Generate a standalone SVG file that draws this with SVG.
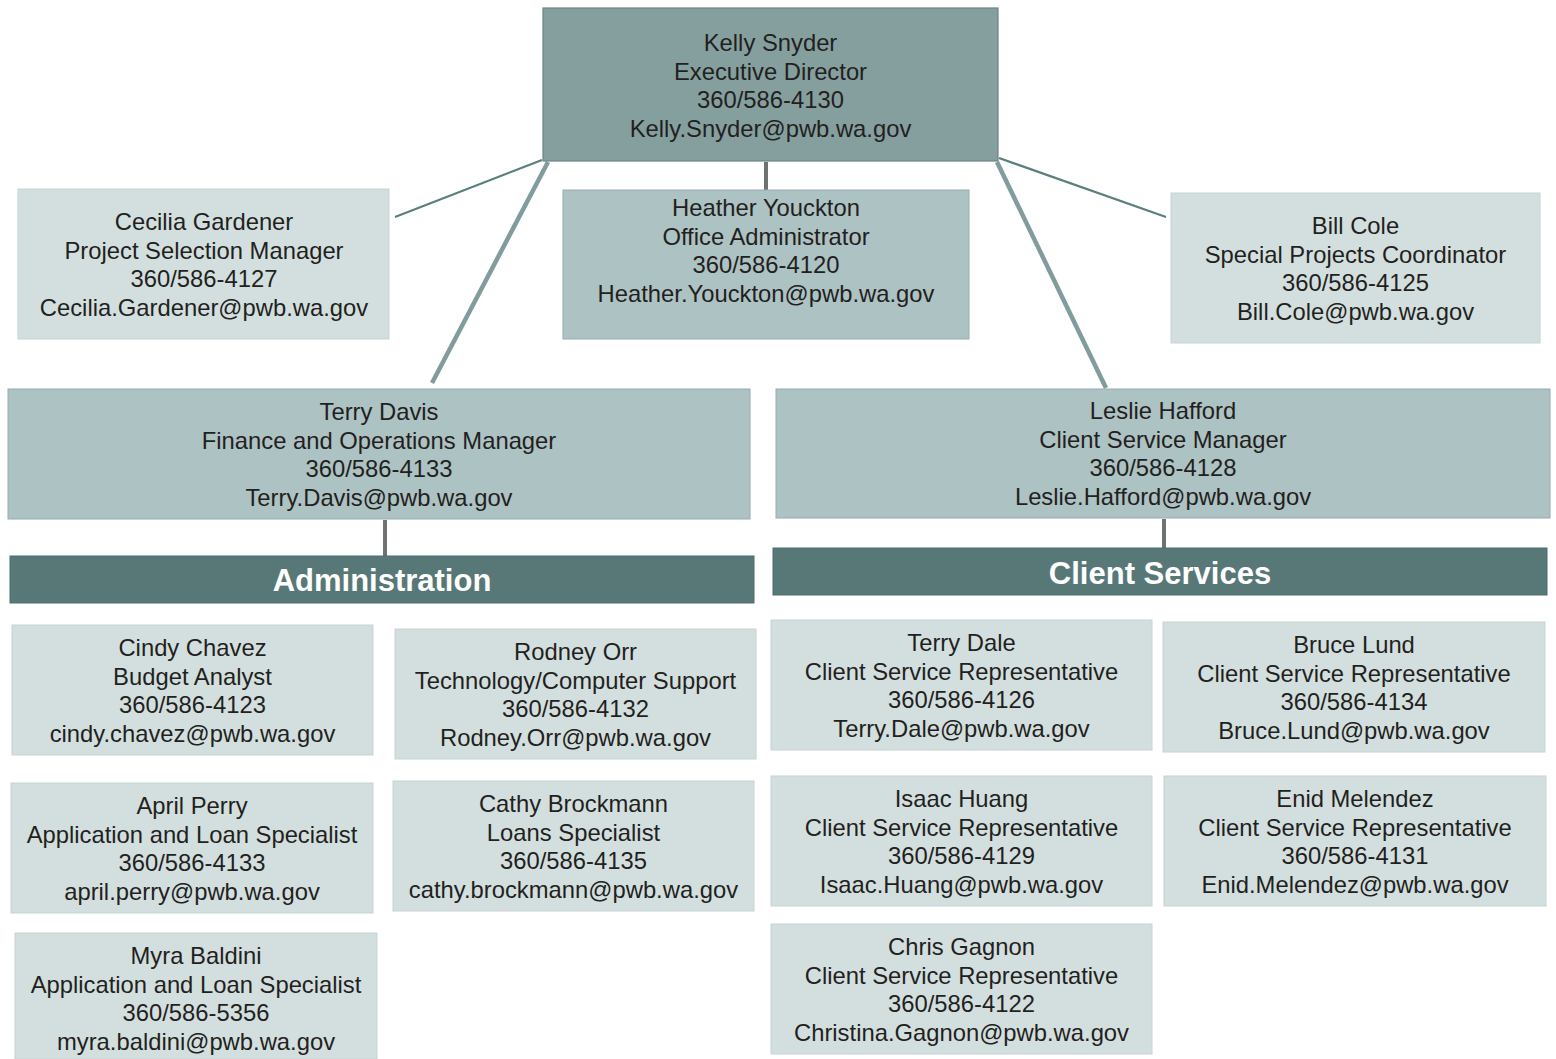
<svg xmlns="http://www.w3.org/2000/svg" width="1556" height="1059" viewBox="0 0 1556 1059">
<style>
.t{font-family:"Liberation Sans",Arial,sans-serif;font-size:23.8px;fill:#231f20;text-anchor:middle}
.h{font-family:"Liberation Sans",Arial,sans-serif;font-size:31px;font-weight:bold;fill:#ffffff;text-anchor:middle}
.top{fill:#859f9f;stroke:#6c8686;stroke-width:1.2}
.mgr{fill:#adc2c3;stroke:#98acad;stroke-width:1}
.lt{fill:#d3dfdf;stroke:#c8d4d4;stroke-width:1}
.bar{fill:#587878;stroke:#4f6d6d;stroke-width:1}
.thin{stroke:#5b7e7e;stroke-width:2.2;fill:none}
.thick{stroke:#809c9d;stroke-width:4.5;fill:none}
.vert{stroke:#6f7273;stroke-width:4;fill:none}
</style>
<rect width="1556" height="1059" fill="#ffffff"/>
<g id="connectors">
<line class="thin" x1="542" y1="160" x2="395" y2="217"/>
<line class="thick" x1="548" y1="162" x2="432" y2="383"/>
<line class="vert" x1="766" y1="162" x2="766" y2="190"/>
<line class="thin" x1="999" y1="158" x2="1166" y2="217"/>
<line class="thick" x1="997" y1="162" x2="1106" y2="388"/>
<line class="vert" x1="385" y1="520" x2="385" y2="556"/>
<line class="vert" x1="1164" y1="519" x2="1164" y2="548"/>
</g>
<g id="kelly">
<rect class="top" x="543" y="8" width="455" height="153"/>
<text class="t" x="770.5" y="51"><tspan x="770.5">Kelly Snyder</tspan><tspan x="770.5" dy="28.7">Executive Director</tspan><tspan x="770.5" dy="28.7">360/586-4130</tspan><tspan x="770.5" dy="28.7">Kelly.Snyder@pwb.wa.gov</tspan></text>
</g>
<g id="cecilia">
<rect class="lt" x="18" y="189" width="371" height="150"/>
<text class="t" x="204" y="230"><tspan x="204">Cecilia Gardener</tspan><tspan x="204" dy="28.7">Project Selection Manager</tspan><tspan x="204" dy="28.7">360/586-4127</tspan><tspan x="204" dy="28.7">Cecilia.Gardener@pwb.wa.gov</tspan></text>
</g>
<g id="heather">
<rect class="mgr" x="563" y="190" width="406" height="149"/>
<text class="t" x="766" y="216"><tspan x="766">Heather Youckton</tspan><tspan x="766" dy="28.7">Office Administrator</tspan><tspan x="766" dy="28.7">360/586-4120</tspan><tspan x="766" dy="28.7">Heather.Youckton@pwb.wa.gov</tspan></text>
</g>
<g id="bill">
<rect class="lt" x="1171" y="193" width="369" height="150"/>
<text class="t" x="1355.5" y="234"><tspan x="1355.5">Bill Cole</tspan><tspan x="1355.5" dy="28.7">Special Projects Coordinator</tspan><tspan x="1355.5" dy="28.7">360/586-4125</tspan><tspan x="1355.5" dy="28.7">Bill.Cole@pwb.wa.gov</tspan></text>
</g>
<g id="terry-davis">
<rect class="mgr" x="8" y="389" width="742" height="130"/>
<text class="t" x="379" y="420"><tspan x="379">Terry Davis</tspan><tspan x="379" dy="28.7">Finance and Operations Manager</tspan><tspan x="379" dy="28.7">360/586-4133</tspan><tspan x="379" dy="28.7">Terry.Davis@pwb.wa.gov</tspan></text>
</g>
<g id="leslie">
<rect class="mgr" x="776" y="389" width="774" height="129"/>
<text class="t" x="1163" y="419"><tspan x="1163">Leslie Hafford</tspan><tspan x="1163" dy="28.7">Client Service Manager</tspan><tspan x="1163" dy="28.7">360/586-4128</tspan><tspan x="1163" dy="28.7">Leslie.Hafford@pwb.wa.gov</tspan></text>
</g>
<g id="administration">
<rect class="bar" x="10" y="556" width="744" height="47"/>
<text class="h" x="382" y="591">Administration</text>
</g>
<g id="client-services">
<rect class="bar" x="773" y="548" width="774" height="47"/>
<text class="h" x="1160" y="584">Client Services</text>
</g>
<g id="cindy">
<rect class="lt" x="12" y="625" width="361" height="130"/>
<text class="t" x="192.5" y="656"><tspan x="192.5">Cindy Chavez</tspan><tspan x="192.5" dy="28.7">Budget Analyst</tspan><tspan x="192.5" dy="28.7">360/586-4123</tspan><tspan x="192.5" dy="28.7">cindy.chavez@pwb.wa.gov</tspan></text>
</g>
<g id="rodney">
<rect class="lt" x="395" y="629" width="361" height="130"/>
<text class="t" x="575.5" y="660"><tspan x="575.5">Rodney Orr</tspan><tspan x="575.5" dy="28.7">Technology/Computer Support</tspan><tspan x="575.5" dy="28.7">360/586-4132</tspan><tspan x="575.5" dy="28.7">Rodney.Orr@pwb.wa.gov</tspan></text>
</g>
<g id="april">
<rect class="lt" x="11" y="783" width="362" height="130"/>
<text class="t" x="192" y="814"><tspan x="192">April Perry</tspan><tspan x="192" dy="28.7">Application and Loan Specialist</tspan><tspan x="192" dy="28.7">360/586-4133</tspan><tspan x="192" dy="28.7">april.perry@pwb.wa.gov</tspan></text>
</g>
<g id="cathy">
<rect class="lt" x="393" y="781" width="361" height="130"/>
<text class="t" x="573.5" y="812"><tspan x="573.5">Cathy Brockmann</tspan><tspan x="573.5" dy="28.7">Loans Specialist</tspan><tspan x="573.5" dy="28.7">360/586-4135</tspan><tspan x="573.5" dy="28.7">cathy.brockmann@pwb.wa.gov</tspan></text>
</g>
<g id="myra">
<rect class="lt" x="15" y="933" width="362" height="126"/>
<text class="t" x="196" y="964"><tspan x="196">Myra Baldini</tspan><tspan x="196" dy="28.7">Application and Loan Specialist</tspan><tspan x="196" dy="28.7">360/586-5356</tspan><tspan x="196" dy="28.7">myra.baldini@pwb.wa.gov</tspan></text>
</g>
<g id="terry-dale">
<rect class="lt" x="771" y="620" width="381" height="130"/>
<text class="t" x="961.5" y="651"><tspan x="961.5">Terry Dale</tspan><tspan x="961.5" dy="28.7">Client Service Representative</tspan><tspan x="961.5" dy="28.7">360/586-4126</tspan><tspan x="961.5" dy="28.7">Terry.Dale@pwb.wa.gov</tspan></text>
</g>
<g id="bruce">
<rect class="lt" x="1163" y="622" width="382" height="130"/>
<text class="t" x="1354" y="653"><tspan x="1354">Bruce Lund</tspan><tspan x="1354" dy="28.7">Client Service Representative</tspan><tspan x="1354" dy="28.7">360/586-4134</tspan><tspan x="1354" dy="28.7">Bruce.Lund@pwb.wa.gov</tspan></text>
</g>
<g id="isaac">
<rect class="lt" x="771" y="776" width="381" height="130"/>
<text class="t" x="961.5" y="807"><tspan x="961.5">Isaac Huang</tspan><tspan x="961.5" dy="28.7">Client Service Representative</tspan><tspan x="961.5" dy="28.7">360/586-4129</tspan><tspan x="961.5" dy="28.7">Isaac.Huang@pwb.wa.gov</tspan></text>
</g>
<g id="enid">
<rect class="lt" x="1164" y="776" width="382" height="130"/>
<text class="t" x="1355" y="807"><tspan x="1355">Enid Melendez</tspan><tspan x="1355" dy="28.7">Client Service Representative</tspan><tspan x="1355" dy="28.7">360/586-4131</tspan><tspan x="1355" dy="28.7">Enid.Melendez@pwb.wa.gov</tspan></text>
</g>
<g id="chris">
<rect class="lt" x="771" y="924" width="381" height="130"/>
<text class="t" x="961.5" y="955"><tspan x="961.5">Chris Gagnon</tspan><tspan x="961.5" dy="28.7">Client Service Representative</tspan><tspan x="961.5" dy="28.7">360/586-4122</tspan><tspan x="961.5" dy="28.7">Christina.Gagnon@pwb.wa.gov</tspan></text>
</g>
</svg>
